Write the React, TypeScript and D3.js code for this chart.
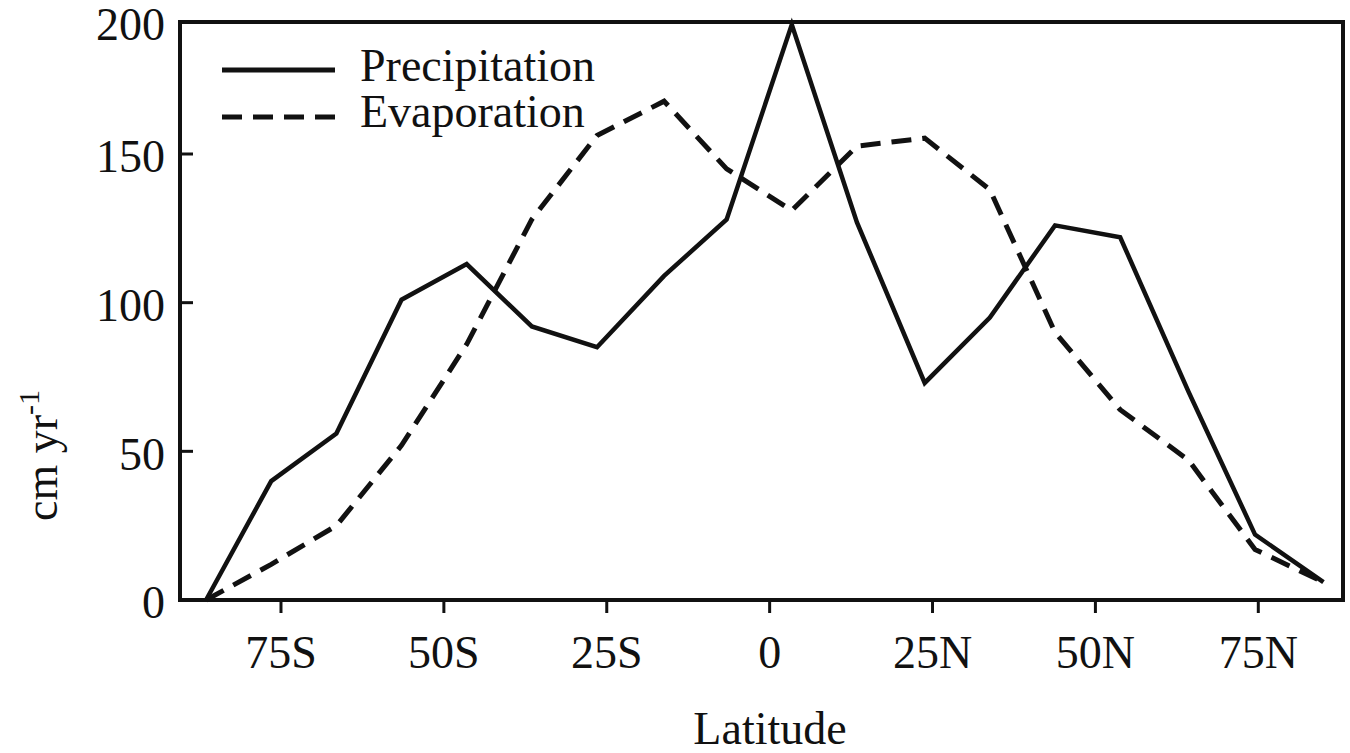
import React from "react";
import * as d3 from "d3";

const latitudes = [-86.5, -76.5, -66.5, -56.5, -46.5, -36.5, -26.5, -16.2, -6.6, 3.4, 13.4, 23.8, 33.8, 43.8, 53.8, 64.3, 74.5, 85];
const precipitation = [0, 40, 56, 101, 113, 92, 85, 109, 128, 199, 127, 73, 95, 126, 122, 70, 22, 6];
const evaporation = [0, 12, 25, 52, 86, 128, 157, 170, 145, 131, 153, 156, 138, 90, 64, 47, 17, 6];
const xTicks = [-75, -50, -25, 0, 25, 50, 75];
const xTickLabels = ["75S", "50S", "25S", "0", "25N", "50N", "75N"];
const yTicks = [0, 50, 100, 150, 200];
const legendItems = ["Precipitation", "Evaporation"];

const W = 1350;
const H = 753;
const left = 180, right = 1343, top = 22, bottom = 600;
const FONT = "'Liberation Serif', 'Times New Roman', serif";

export default function App() {
  const x = d3.scaleLinear().domain([-90.5, 88]).range([left, right]);
  const y = d3.scaleLinear().domain([0, 150, 200]).range([bottom, 154, top]);

  const line = d3
    .line<number>()
    .x((_, i) => x(latitudes[i]))
    .y((d) => y(d));

  const stroke = "#111";

  return (
    <svg
      width={W}
      height={H}
      style={{ position: "absolute", left: 0, top: 0, background: "#fff" }}
      fontFamily={FONT}
    >
      <rect x={0} y={0} width={W} height={H} fill="#fff" />
      {/* data lines */}
      <path d={line(precipitation) || ""} fill="none" stroke={stroke} strokeWidth={4.5} strokeLinejoin="miter" />
      <path
        d={line(evaporation) || ""}
        fill="none"
        stroke={stroke}
        strokeWidth={5}
        strokeDasharray="20 11"
      />

      {/* frame */}
      <rect x={left} y={top} width={right - left} height={bottom - top} fill="none" stroke={stroke} strokeWidth={4} />

      {/* y ticks (inward) */}
      {yTicks.map((t) => (
        <g key={"y" + t}>
          {t > 0 && t < 200 && (
            <line x1={left} x2={left + 13} y1={y(t)} y2={y(t)} stroke={stroke} strokeWidth={3} />
          )}
          <text
            x={165}
            y={y(t)}
            dy="0.4em"
            textAnchor="end"
            fontSize={46}
            fill={stroke}
          >
            {t}
          </text>
        </g>
      ))}

      {/* x ticks (outward) */}
      {xTicks.map((t, i) => (
        <g key={"x" + t}>
          <line x1={x(t)} x2={x(t)} y1={bottom} y2={bottom + 13} stroke={stroke} strokeWidth={3} />
          <text x={x(t)} y={668} textAnchor="middle" fontSize={46} fill={stroke}>
            {xTickLabels[i]}
          </text>
        </g>
      ))}

      {/* axis titles */}
      <text x={770} y={744} textAnchor="middle" fontSize={46} fill={stroke}>
        Latitude
      </text>
      <text
        transform="translate(57,521) rotate(-90)"
        fontSize={46}
        fill={stroke}
      >
        cm yr
        <tspan fontSize={30} dy={-18}>-1</tspan>
      </text>

      {/* legend */}
      {legendItems.map((name, i) => (
        <g key={name}>
          <line
            x1={222}
            x2={335}
            y1={70 + i * 47}
            y2={70 + i * 47}
            stroke={stroke}
            strokeWidth={5}
            strokeDasharray={i === 1 ? "20 11" : undefined}
          />
          <text x={360} y={81 + i * 46} fontSize={46} fill={stroke}>
            {name}
          </text>
        </g>
      ))}
    </svg>
  );
}
